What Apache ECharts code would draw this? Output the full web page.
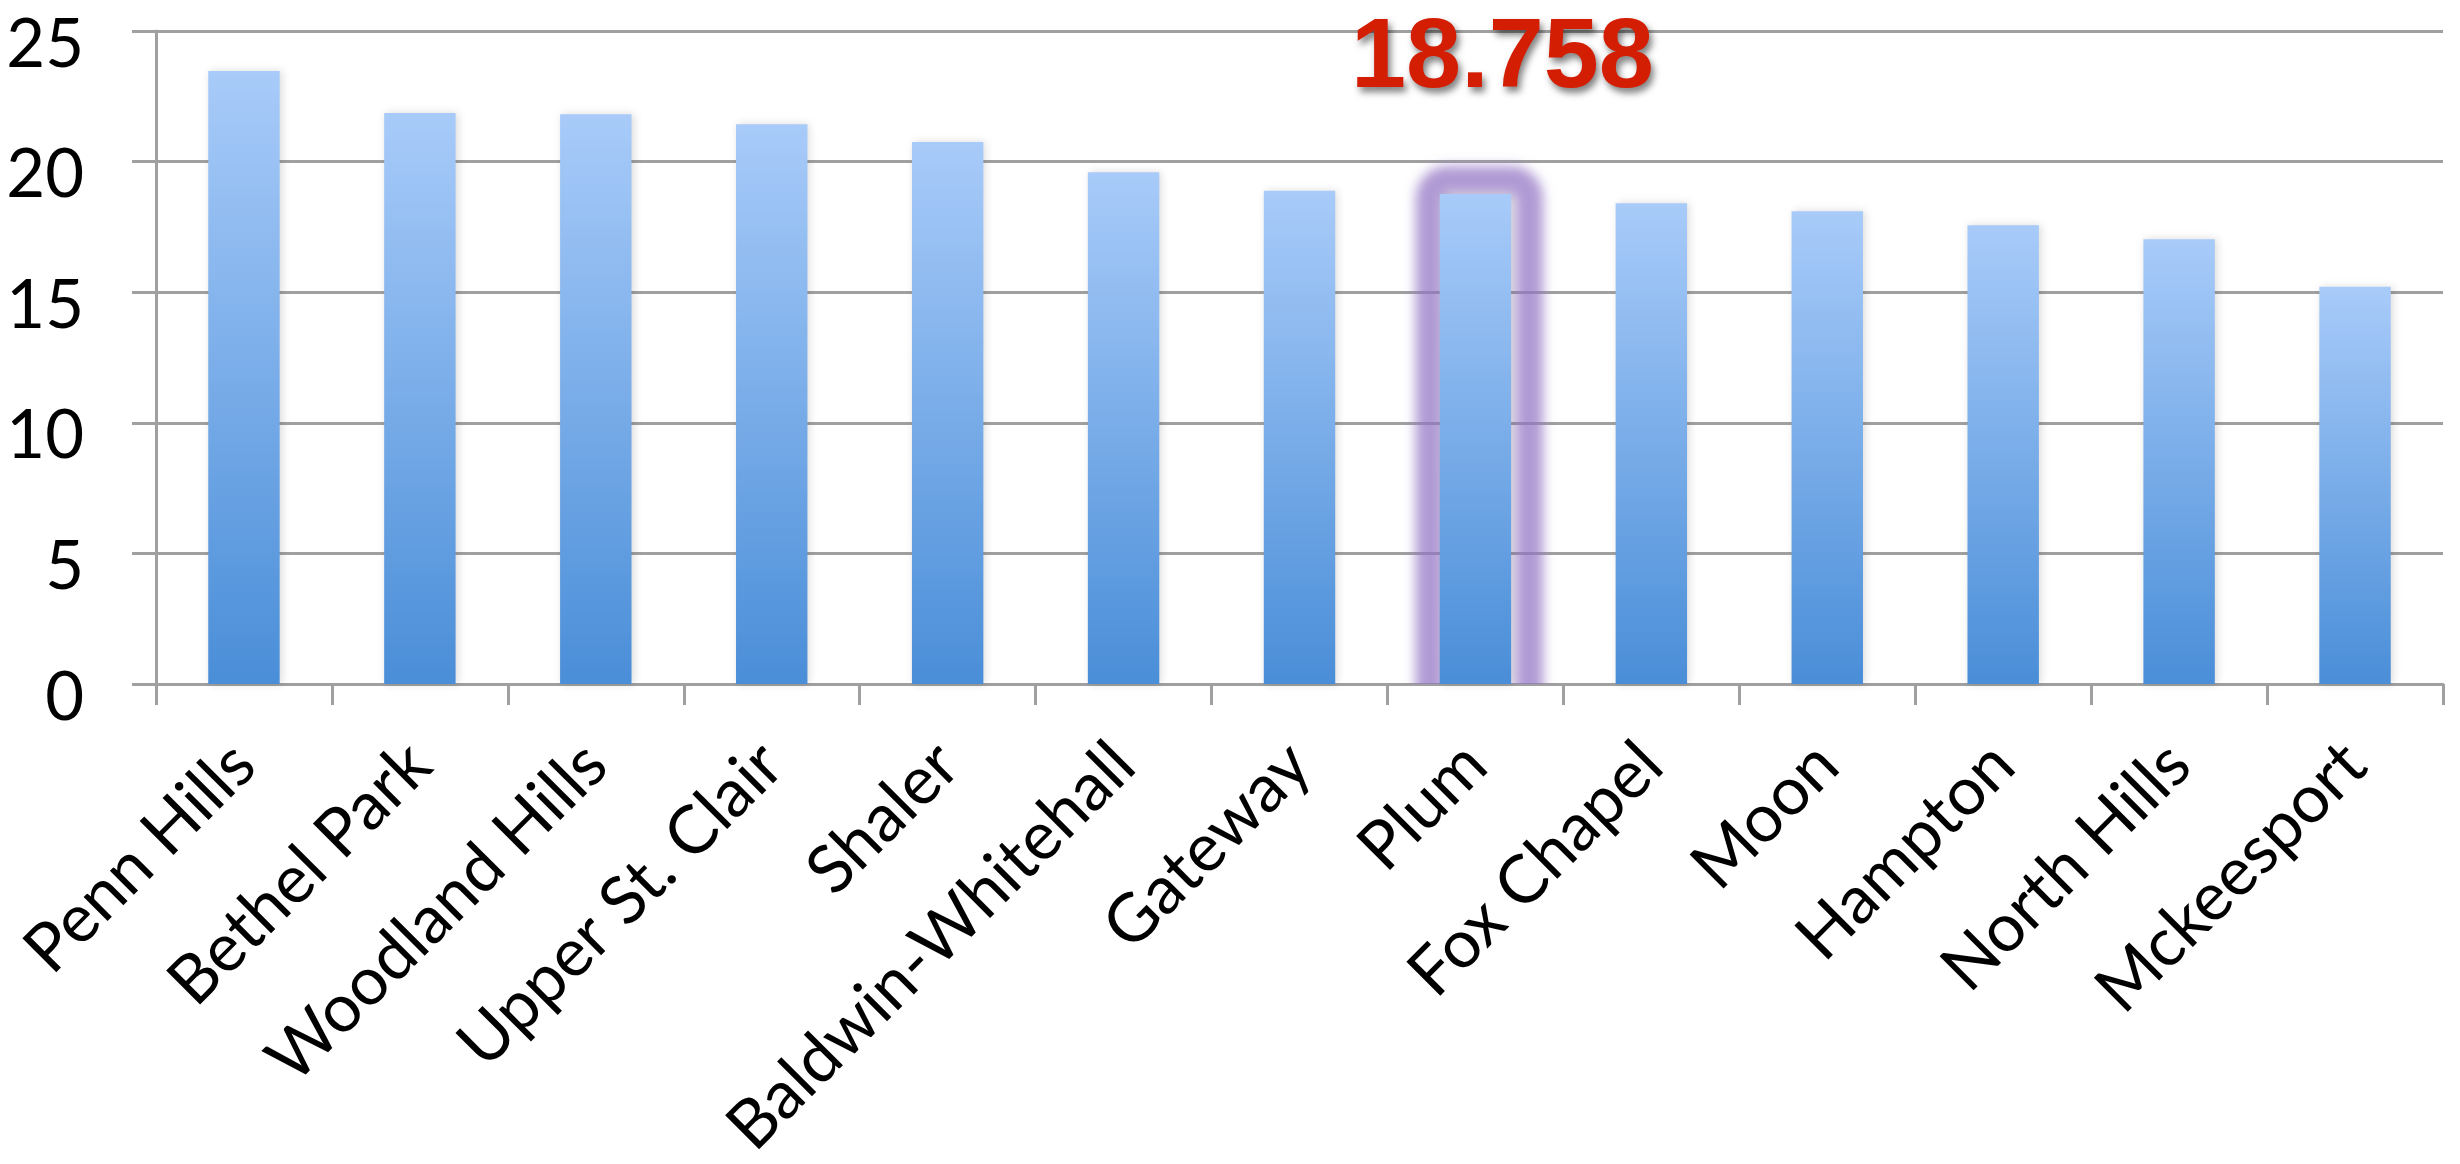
<!DOCTYPE html>
<html>
<head>
<meta charset="utf-8">
<title>District values</title>
<script src="https://cdn.jsdelivr.net/npm/echarts@6/dist/echarts.min.js"></script>
<style>
  html, body { margin: 0; padding: 0; background: #ffffff; }
  #chart { width: 2460px; height: 1164px; }
</style>
</head>
<body>
<div id="chart"></div>
<script>
// School districts, sorted high to low
const districts = [
  'Penn Hills', 'Bethel Park', 'Woodland Hills', 'Upper St. Clair', 'Shaler',
  'Baldwin-Whitehall', 'Gateway', 'Plum', 'Fox Chapel', 'Moon',
  'Hampton', 'North Hills', 'Mckeesport'
];
const values = [
  23.47, 21.86, 21.81, 21.43, 20.75,
  19.59, 18.88, 18.758, 18.41, 18.10,
  17.56, 17.03, 15.21
];
const yTicks = [0, 5, 10, 15, 20, 25];
// The district called out with a ring and its value
const highlighted = 'Plum';

const hiIndex = districts.indexOf(highlighted);
const GRAY = '#a0a0a0';
const FONT = 'Lato';
const BAR_RATIO = 0.406;

const chart = echarts.init(document.getElementById('chart'), null, { renderer: 'canvas' });

const barData = values.map(function (v, i) {
  if (i !== hiIndex) return v;
  return {
    value: v,
    label: {
      show: true,
      position: ['50%', -134],
      offset: [27, 0],
      align: 'center',
      verticalAlign: 'middle',
      formatter: function (p) { return String(p.value); },
      fontFamily: 'Liberation Sans',
      fontWeight: 'bold',
      fontSize: 99,
      color: '#d41e04',
      textShadowColor: 'rgba(0,0,0,0.5)',
      textShadowBlur: 7,
      textShadowOffsetX: 3,
      textShadowOffsetY: 5
    }
  };
});

chart.setOption({
  animation: false,
  backgroundColor: '#ffffff',
  grid: { left: 156, right: 17, top: 31, bottom: 479, containLabel: false },
  xAxis: {
    type: 'category',
    data: districts,
    boundaryGap: true,
    axisLine: { show: true, lineStyle: { color: GRAY, width: 3 } },
    axisTick: { show: true, length: 21, lineStyle: { color: GRAY, width: 3 } },
    axisLabel: {
      interval: 0,
      rotate: 45,
      margin: 70,
      padding: [22, 0, 0, 0],
      fontFamily: FONT,
      fontSize: 67,
      color: '#000000'
    },
    splitLine: { show: false }
  },
  yAxis: {
    type: 'value',
    min: yTicks[0],
    max: yTicks[yTicks.length - 1],
    interval: yTicks[1] - yTicks[0],
    axisLine: { show: true, lineStyle: { color: GRAY, width: 3 } },
    axisTick: { show: true, length: 24, lineStyle: { color: GRAY, width: 3 } },
    axisLabel: {
      margin: 72,
      align: 'right',
      verticalAlign: 'top',
      formatter: '{n|{value}}',
      rich: {
        n: {
          width: 75,
          align: 'right',
          lineHeight: 28,
          fontFamily: FONT,
          fontSize: 67,
          color: '#000000'
        }
      }
    },
    splitLine: { show: true, lineStyle: { color: GRAY, width: 3 } }
  },
  series: [
    {
      // soft purple ring drawn behind the highlighted bar
      type: 'custom',
      z: 1,
      clip: true,
      silent: true,
      data: [[hiIndex, values[hiIndex]]],
      renderItem: function (params, api) {
        const top = api.coord([api.value(0), api.value(1)]);
        const base = api.coord([api.value(0), 0]);
        const bw = api.size([1, 0])[0] * BAR_RATIO;
        const pad = 14;
        const SHIFT = 6000;
        return {
          type: 'rect',
          shape: {
            x: top[0] - bw / 2 - pad + 4 - SHIFT,
            y: top[1] - pad,
            width: bw + pad * 2,
            height: base[1] - top[1] + pad + 40,
            r: 18
          },
          style: {
            fill: null,
            stroke: 'rgba(146,116,196,0.85)',
            lineWidth: 28,
            shadowColor: 'rgba(146,116,196,0.85)',
            shadowBlur: 12,
            shadowOffsetX: SHIFT,
            shadowOffsetY: 0
          }
        };
      }
    },
    {
      type: 'bar',
      z: 2,
      barWidth: (BAR_RATIO * 100) + '%',
      data: barData,
      itemStyle: {
        color: new echarts.graphic.LinearGradient(0, 0, 0, 1, [
          { offset: 0, color: '#a8cbf9' },
          { offset: 1, color: '#4a8ed8' }
        ]),
        shadowColor: 'rgba(0,0,0,0.14)',
        shadowBlur: 8,
        shadowOffsetX: 2,
        shadowOffsetY: 0
      },
      label: { show: false }
    }
  ]
});
</script>
</body>
</html>
